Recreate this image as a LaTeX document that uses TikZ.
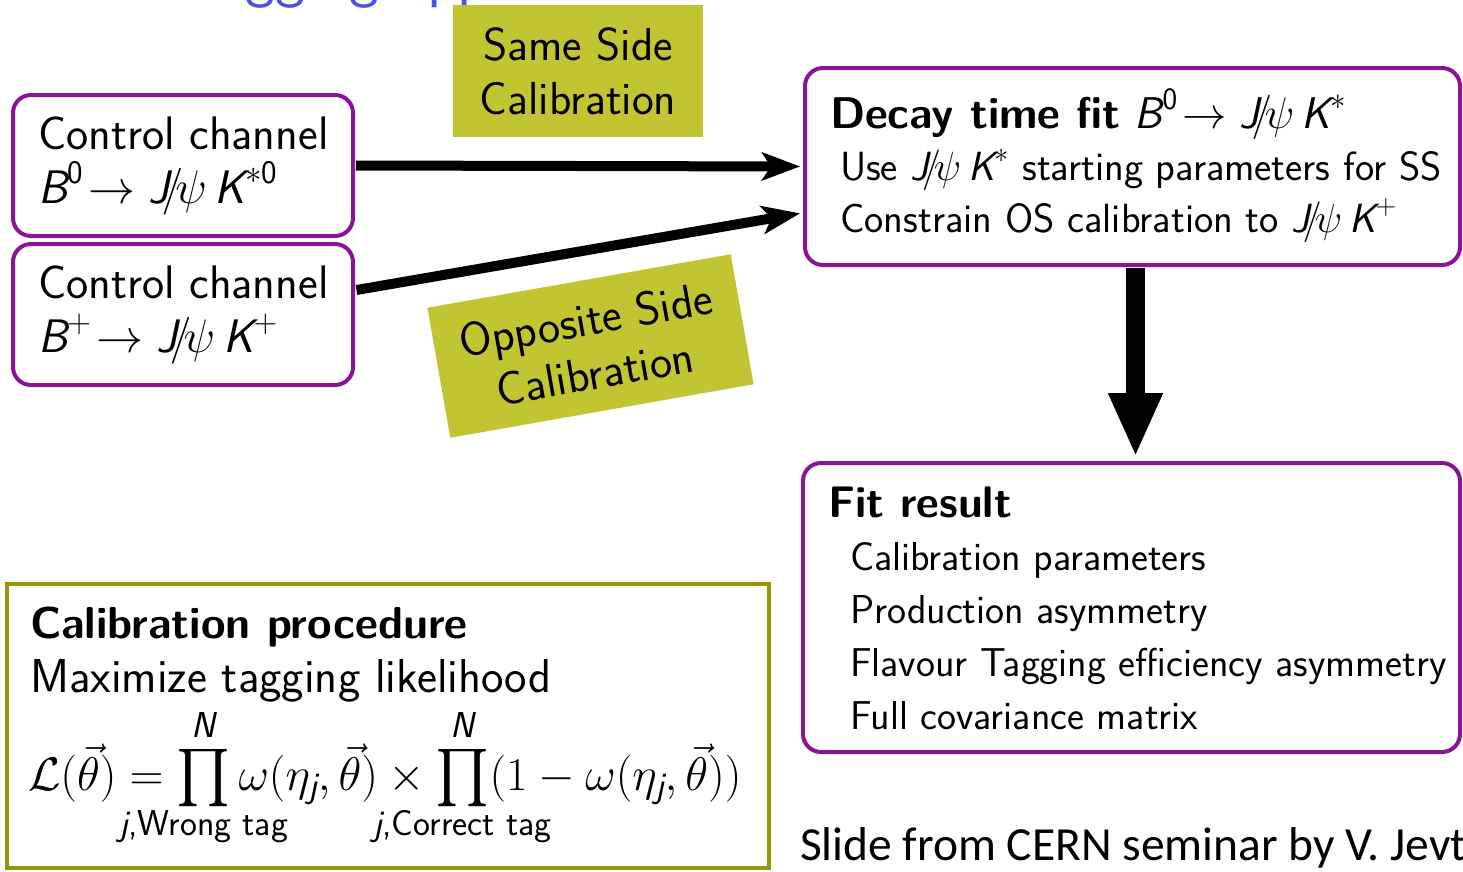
\RequirePackage{fix-cm}
\documentclass[tikz,border=0pt]{standalone}
\usepackage{amsmath}
\usepackage{mathtools}
\usepackage{graphicx}
\usepackage{fontspec}
\newfontfamily\calibri{Carlito}
\usetikzlibrary{arrows.meta,calc}
\definecolor{boxpurple}{HTML}{8A1496}
\definecolor{olivebord}{HTML}{9C9505}
\definecolor{calfill}{HTML}{C1C532}
\definecolor{titleblue}{HTML}{5050E6}
\DeclareMathSizes{47.1}{47.1}{36}{28}
\newcommand{\sv}[1]{\textsf{\itshape #1}}
\newcommand{\fsz}[1]{\sffamily\fontsize{#1}{54}\selectfont}
\newcommand{\bigprod}{\mathop{\vcenter{\hbox{\resizebox{54pt}{!}{$\textstyle\prod$}}}}\limits}
\newcommand{\limup}{\mbox{\raisebox{7pt}{\sffamily\fontsize{36}{40}\selectfont\itshape N}}}
\newcommand{\limdn}[1]{\mathclap{\mbox{\raisebox{-6pt}{\sffamily\fontsize{36}{40}\selectfont\textit{j},#1}}}}
\begin{document}
\begin{tikzpicture}[x=1pt,y=-1pt,
  every node/.style={inner sep=0pt,outer sep=0pt,font=\fsz{43.5}},
  txt/.style={anchor=base west},
  chbox/.style={draw=boxpurple,line width=4pt,rounded corners=18pt},
  calbox/.style={fill=calfill,align=center},
  thinarrow/.style={line width=10pt,-{Stealth[length=38pt,width=28pt,inset=9pt]}},
  bigarrow/.style={line width=19pt,-{Stealth[length=64pt,width=50pt,inset=0pt]}}
]
\useasboundingbox (0,0) rectangle (1463,871);
\clip (0,0) rectangle (1463,871);

% cut-off title
\node[txt,font=\fsz{63},text=titleblue] (title) at (196,-5) {tagging app};

% boxes
\node[chbox,minimum width=340pt,minimum height=141pt] (cc1) at (183,165.5) {};
\node[chbox,minimum width=340pt,minimum height=141pt] (cc2) at (183,314.5) {};
\node[chbox,minimum width=655pt,minimum height=197pt] (decay) at (1132.5,166.5) {};
\node[chbox,minimum width=657pt,minimum height=289pt] (fit) at (1131.5,607.5) {};
\node[draw=olivebord,line width=4pt,minimum width=762.5pt,minimum height=284pt] (calib) at (387.75,726) {};

% labels
\node[calbox,font=\fsz{46.3},minimum width=250pt,minimum height=132pt] (ss) at (578,71) {Same Side\\Calibration};
\node[calbox,font=\fsz{47},minimum width=308pt,minimum height=132pt,rotate=10] (os) at (590.5,346) {Opposite Side\\Calibration};

% texts
\node[txt,font=\fsz{47}] (t1a) at (38,149) {Control channel};
\node[txt,font=\fsz{47}] (t1b) at (38,203) {$\sv{B}^{\mathsf{0}}\!\rightarrow \sv{J}\!/\!\psi\,\sv{K}^{*\mathsf{0}}$};
\node[txt,font=\fsz{47}] (t2a) at (38,298) {Control channel};
\node[txt,font=\fsz{47}] (t2b) at (38,352) {$\sv{B}^{+}\!\rightarrow \sv{J}\!/\!\psi\,\sv{K}^{+}$};

\node[txt,font=\fsz{44.4}] (d1) at (830,128) {\textbf{Decay time fit} $\sv{B}^{\mathsf{0}}\!\rightarrow \sv{J}\!/\!\psi\,\sv{K}^{*}$};
\node[txt,font=\fsz{40.8}] (d2) at (840,180) {Use $\sv{J}\!/\!\psi\,\sv{K}^{*}$ starting parameters for SS};
\node[txt,font=\fsz{40.8}] (d3) at (840,232) {Constrain OS calibration to $\sv{J}\!/\!\psi\,\sv{K}^{+}$};

\node[txt,font=\fsz{44.2}] (f0) at (828,517) {\textbf{Fit result}};
\node[txt,font=\fsz{40.3}] (f1) at (850,570) {Calibration parameters};
\node[txt,font=\fsz{40.3}] (f2) at (850,623) {Production asymmetry};
\node[txt,font=\fsz{40.3}] (f3) at (850,676) {Flavour Tagging efficiency asymmetry};
\node[txt,font=\fsz{40.3}] (f4) at (850,729) {Full covariance matrix};

\node[txt,font=\fsz{44.7}] (c0) at (30,638) {\textbf{Calibration procedure}};
\node[txt,font=\fsz{47.6}] (c1) at (30,692) {Maximize tagging likelihood};
\node[txt,font=\fsz{47.1}] (c2) at (28,790) {$\displaystyle \mathcal{L}(\vec{\theta}) = \bigprod_{\limdn{Wrong tag}}^{\limup}\omega(\eta_{\sv{j}},\vec{\theta})\times\bigprod_{\limdn{Correct tag}}^{\limup}(1-\omega(\eta_{\sv{j}},\vec{\theta}))$};

\node[txt,font=\calibri\fontsize{47.5}{50}\selectfont] (src) at (800,860) {Slide from CERN seminar by V. Jevtic};

% connectors
\draw[thinarrow,shorten <=3pt,shorten >=5pt] (cc1.east) -- (decay.west);
\draw[thinarrow,shorten <=3.5pt,shorten >=5pt] (cc2.8.9) -- (decay.188.9);
\draw[bigarrow,shorten <=3pt,shorten >=6pt] ([xshift=3pt]decay.south) -- ([xshift=3pt]decay.south |- fit.north);
\end{tikzpicture}
\end{document}
